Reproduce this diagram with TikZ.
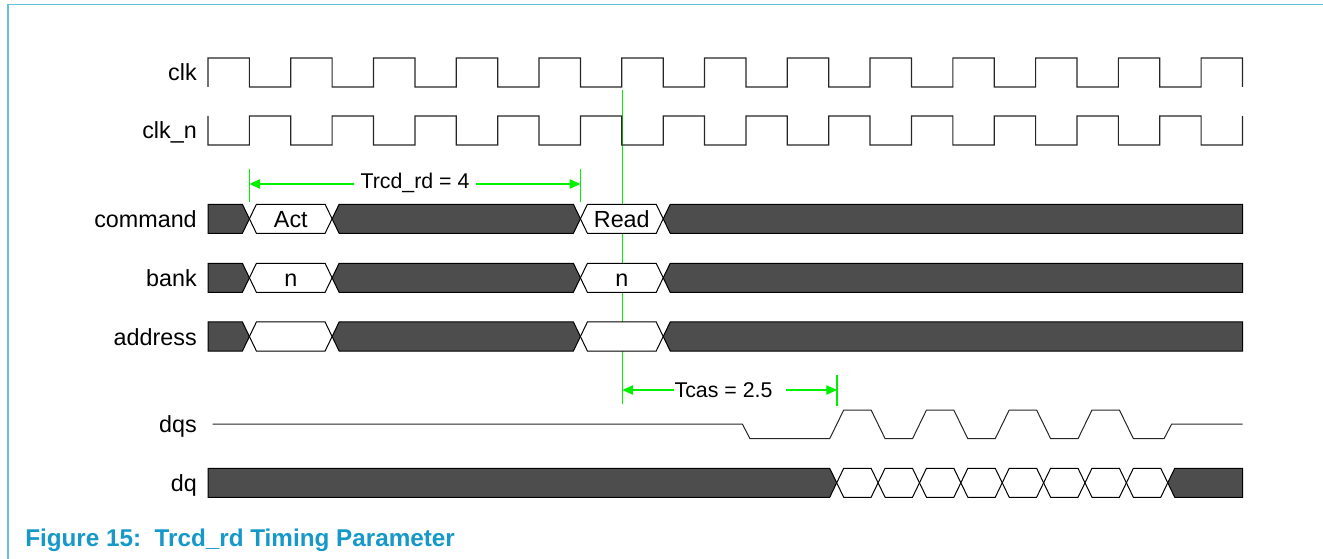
\documentclass[tikz,border=0pt]{standalone}
\usepackage{fontspec}
\setmainfont{Liberation Sans}
\usetikzlibrary{arrows.meta}
\definecolor{busfill}{RGB}{77,77,77}
\definecolor{dimgreen}{RGB}{0,240,0}
\definecolor{capblue}{RGB}{22,152,200}
\definecolor{framecol}{RGB}{100,192,222}
\newcommand{\busrowdraw}[2]{%
  \pgfmathsetmacro\ym{(#1+#2)/2}%
  \draw[busdark] (208,#1) -- (242.4,#1) -- (249.4,\ym) -- (242.4,#2) -- (208,#2) -- cycle;
  \draw[buslight] (249.4,\ym) -- (256.4,#1) -- (325.1,#1) -- (332.1,\ym) -- (325.1,#2) -- (256.4,#2) -- cycle;
  \draw[busdark] (332.1,\ym) -- (339.1,#1) -- (573.4,#1) -- (580.4,\ym) -- (573.4,#2) -- (339.1,#2) -- cycle;
  \draw[buslight] (580.4,\ym) -- (587.4,#1) -- (656.2,#1) -- (663.2,\ym) -- (656.2,#2) -- (587.4,#2) -- cycle;
  \draw[busdark] (663.2,\ym) -- (670.2,#1) -- (1242.5,#1) -- (1242.5,#2) -- (670.2,#2) -- cycle;
}
\begin{document}
\begin{tikzpicture}[x=0.75pt,y=-0.75pt,
  sig/.style={draw=black!85,line width=0.9pt,line join=miter},
  busdark/.style={draw=black,fill=busfill,line width=0.75pt,line join=miter},
  buslight/.style={draw=black,fill=white,line width=0.75pt,line join=miter},
  lbl/.style={anchor=base east,inner sep=0pt,font=\fontsize{17.5}{20}\selectfont},
  bustxt/.style={anchor=base,inner sep=0pt,font=\fontsize{17.5}{20}\selectfont},
  dimtxt/.style={anchor=base,inner ysep=0pt,font=\fontsize{16}{19}\selectfont},
  dimline/.style={draw=dimgreen,line width=0.9pt},
  dimarrow/.style={dimline,-{Triangle[length=8pt,width=7pt]}},
  captxt/.style={anchor=base west,inner sep=0pt,text=capblue,font=\fontsize{18.2}{21}\selectfont\bfseries},
]
\useasboundingbox (0,0) rectangle (1323,559);
% frame
\draw[framecol,line width=1.1pt] (8,559) -- (8,4.7) -- (1323,4.7);

% Tcas reference line (behind the waveforms)
\coordinate (vl1) at (622.3,90);
\coordinate (vl2) at (622.3,404);
\draw[dimline] (vl1) -- (vl2);

% labels
\node[lbl] (lclk)  at (197,80.7)  {clk};
\node[lbl] (lclkn) at (197,138.8) {clk\_n};
\node[lbl] (lcmd)  at (197,227.3) {command};
\node[lbl] (lbank) at (197,286.3) {bank};
\node[lbl] (laddr) at (197,345.0) {address};
\node[lbl] (ldqs)  at (197,432.3) {dqs};
\node[lbl] (ldq)   at (197,491.3) {dq};

% clocks
\draw[sig] (208,87) \foreach \k in {0,2,...,22} {
  -- ({208+\k*41.38},58) -- ({208+(\k+1)*41.38},58)
  -- ({208+(\k+1)*41.38},87) -- ({208+(\k+2)*41.38},87) }
  -- (1201.12,58) -- (1242.5,58) -- (1242.5,87);
\draw[sig] (208,116) \foreach \k in {0,2,...,22} {
  -- ({208+\k*41.38},145) -- ({208+(\k+1)*41.38},145)
  -- ({208+(\k+1)*41.38},116) -- ({208+(\k+2)*41.38},116) }
  -- (1201.12,145) -- (1242.5,145) -- (1242.5,116);

% buses
\busrowdraw{204.3}{233.3}
\busrowdraw{263.3}{292.3}
\busrowdraw{322}{351}
\node[bustxt] (tact)  at (290.8,227.4) {Act};
\node[bustxt] (tread) at (621.8,227.4) {Read};
\node[bustxt] (tn1)   at (290.8,286.3) {n};
\node[bustxt] (tn2)   at (621.8,286.3) {n};

% dqs
\draw[sig,line width=0.75pt] (212.7,424) -- (742.3,424) -- (750,438.7)
  -- (829.7,438.7) -- (843.7,410) -- (871.1,410) -- (885.1,438.7)
  -- (912.5,438.7) -- (926.5,410) -- (953.8,410) -- (967.8,438.7)
  -- (995.2,438.7) -- (1009.2,410) -- (1036.6,410) -- (1050.6,438.7)
  -- (1078,438.7) -- (1092,410) -- (1119.4,410) -- (1133.4,438.7)
  -- (1164,438.7) -- (1171.7,424) -- (1242.5,424);

% dq
\draw[busdark] (208,468.3) -- (829.7,468.3) -- (836.7,482.8) -- (829.7,497.3) -- (208,497.3) -- cycle;
\foreach \k in {15,...,22} {
  \pgfmathsetmacro\ca{216+\k*41.38}
  \pgfmathsetmacro\cb{\ca+41.38}
  \draw[buslight] (\ca,482.8) -- ({\ca+7},468.3) -- ({\cb-7},468.3) -- (\cb,482.8) -- ({\cb-7},497.3) -- ({\ca+7},497.3) -- cycle;
}
\draw[busdark] (1167.74,482.8) -- (1174.74,468.3) -- (1242.5,468.3) -- (1242.5,497.3) -- (1174.74,497.3) -- cycle;

% Trcd_rd dimension
\coordinate (ta1) at (249.4,169);
\coordinate (ta2) at (249.4,201.7);
\coordinate (taM) at (249.4,184);
\coordinate (tb1) at (580.4,169);
\coordinate (tb2) at (580.4,201.7);
\coordinate (tbM) at (580.4,184);
\draw[dimline] (ta1) -- (ta2);
\draw[dimline] (tb1) -- (tb2);
\node[dimtxt,inner xsep=4.5pt] (trcd) at (415,188.3) {Trcd\_rd = 4};
\draw[dimarrow] (trcd.west |- taM) -- (taM);
\draw[dimarrow] (trcd.east |- tbM) -- (tbM);

% Tcas dimension
\coordinate (tcL) at (622.3,390);
\coordinate (tc1) at (837,375);
\coordinate (tc2) at (837,406);
\coordinate (tcM) at (837,390);
\coordinate (tcR) at (786,390);
\draw[dimline] (tc1) -- (tc2);
\node[dimtxt,inner xsep=0.5pt] (tcas) at (723.5,397.3) {Tcas = 2.5};
\draw[dimarrow] (tcas.west |- tcL) -- (tcL);
\draw[dimarrow] (tcR) -- (tcM);

% caption
\node[captxt] (cap) at (25,546) {Figure 15:\hspace{0.55em}Trcd\_rd Timing Parameter};
\end{tikzpicture}
\end{document}
